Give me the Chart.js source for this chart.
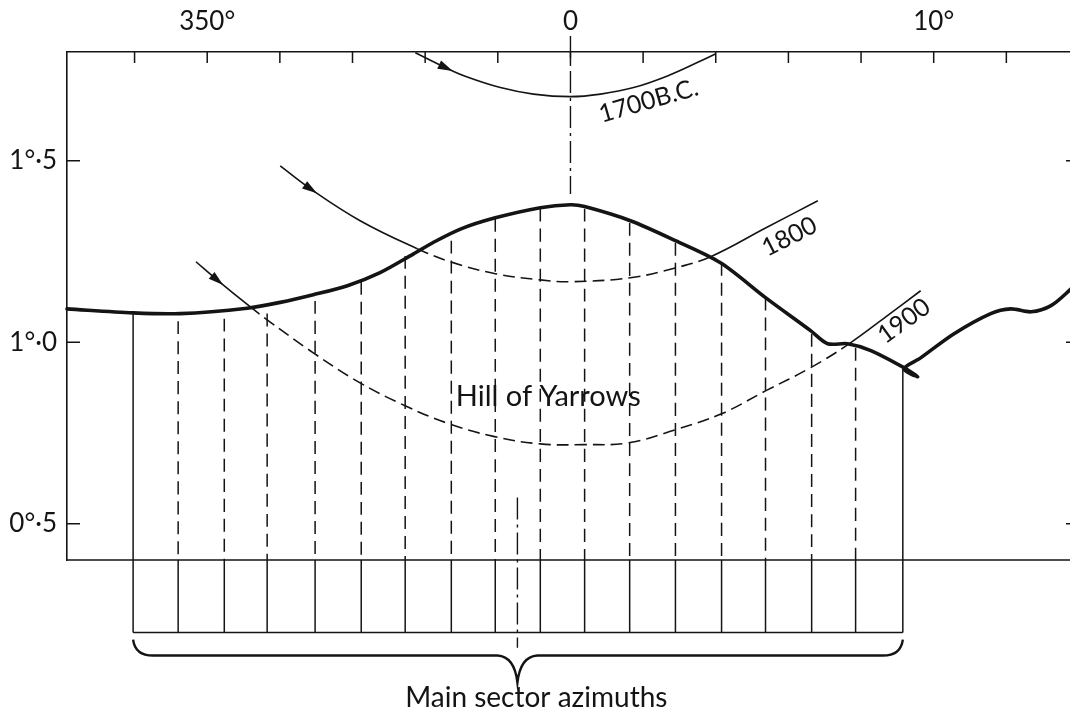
<!DOCTYPE html>
<html>
<head>
<meta charset="utf-8">
<script src="https://cdn.jsdelivr.net/npm/chart.js@4"></script>
<style>
  html, body { margin: 0; padding: 0; background: #fff; overflow: hidden; }
  #wrap { width: 1094px; height: 710px; }
</style>
</head>
<body>
<div id="wrap"><canvas id="horizon" width="1094" height="710"></canvas></div>
<script>
// azimuth in degrees from north (negative = west of 0), altitude in degrees
const skyAz  = [-13.86, -12.04, -10.75, -8.90, -7.99, -7.08, -6.14, -5.24, -4.33, -3.78, -3.03, -2.07, -0.83, 0.0, 0.39, 1.65, 2.89, 4.13, 5.37, 6.61, 7.08, 7.63, 8.27, 9.18, 9.56, 9.18, 9.64, 10.55, 11.57, 12.12, 12.68, 13.23, 13.78, 14.0];
const skyAlt = [1.092, 1.081, 1.079, 1.094, 1.110, 1.131, 1.156, 1.192, 1.243, 1.275, 1.312, 1.343, 1.371, 1.379, 1.374, 1.335, 1.280, 1.219, 1.123, 1.032, 0.996, 0.996, 0.977, 0.930, 0.905, 0.927, 0.957, 1.023, 1.079, 1.092, 1.084, 1.101, 1.147, 1.169];

const bcAz  = [-4.27, -3.44, -2.84, -1.93, -1.02, 0.0, 0.83, 1.74, 2.67, 3.58, 4.0];
const bcAlt = [1.798, 1.757, 1.731, 1.702, 1.684, 1.677, 1.684, 1.702, 1.734, 1.775, 1.795];

const ad1800Az  = [-7.99, -7.16, -5.79, -4.22, -3.31, -2.07, -0.83, 0.0, 1.65, 2.89, 3.86, 5.37, 6.81];
const ad1800Alt = [1.486, 1.423, 1.335, 1.258, 1.222, 1.189, 1.172, 1.167, 1.178, 1.205, 1.236, 1.315, 1.390];

const ad1900Az  = [-10.31, -9.73, -8.82, -8.35, -7.08, -5.84, -4.55, -3.33, -2.09, -0.83, 0.39, 1.60, 2.89, 4.16, 5.37, 6.61, 7.63, 8.68, 9.64];
const ad1900Alt = [1.222, 1.172, 1.098, 1.062, 0.971, 0.891, 0.825, 0.775, 0.740, 0.720, 0.718, 0.723, 0.759, 0.803, 0.866, 0.930, 0.993, 1.070, 1.142];

const sectorAz  = [-12.04, -10.80, -9.53, -8.35, -7.03, -5.76, -4.55, -3.28, -2.07, -0.83, 0.39, 1.63, 2.89, 4.16, 5.37, 6.64, 7.85, 9.15];
const sectorTop = [1.081, 1.058, 1.065, 1.079, 1.114, 1.167, 1.238, 1.280, 1.340, 1.368, 1.368, 1.329, 1.274, 1.219, 1.123, 1.023, 0.985, 0.927];

const xTicks = [-12, -10, -8, -6, -4, -2, 0, 2, 4, 6, 8, 10, 12];
const xLabelAt = [-10, 0, 10];
const xLabels  = ['350°', '0', '10°'];
const yTicks  = [0.5, 1.0, 1.5];
const yLabels = ['0°·5', '1°·0', '1°·5'];

const xMin = -13.86, xMax = 14.0, yMin = 0.4, yMax = 1.8;
const boxBottom = 0.2;     // lower edge of the sector boxes
const centreLine = [1.844, 1.409];
const sectorMid = -1.46;
const sectorMidLine = [0.572, 0.158];

const ink = '#141414';
const FONT = 'Lato, "Open Sans", sans-serif';

// dashed where the path is hidden behind the hill
const dashed1800 = [3, 9];
const dashed1900 = [2, 15];

const notes = [
  { text: '1700B.C.', az: 2.15, alt: 1.665, rot: -16, size: 25 },
  { text: '1800', az: 6.03, alt: 1.291, rot: -27, size: 25 },
  { text: '1900', az: 9.18, alt: 1.059, rot: -36, size: 25 },
  { text: 'Hill of Yarrows', az: -0.61, alt: 0.85, rot: 0, size: 29 },
  { text: 'Main sector azimuths', az: -0.94, alt: 0.02, rot: 0, size: 28 }
];

function pts(az, alt) { return az.map((a, i) => ({ x: a, y: alt[i] })); }

const sectorPts = [];
sectorAz.forEach((a, i) => {
  sectorPts.push({ x: a, y: sectorTop[i] }, { x: a, y: yMin }, { x: a, y: boxBottom }, { x: a, y: null });
});

function dashBetween(range, pattern) {
  return c => (c.p0DataIndex >= range[0] && c.p0DataIndex <= range[1]) ? pattern : undefined;
}

const decor = {
  id: 'decor',
  afterDatasetsDraw(chart) {
    const { ctx, chartArea: a, scales: { x, y } } = chart;
    ctx.save();
    ctx.strokeStyle = ink;
    ctx.fillStyle = ink;
    ctx.lineWidth = 1.5;

    // bottom frame and inward tick marks
    ctx.beginPath();
    ctx.moveTo(a.left, a.bottom); ctx.lineTo(a.right, a.bottom);
    xTicks.forEach(v => {
      const px = x.getPixelForValue(v);
      ctx.moveTo(px, a.top); ctx.lineTo(px, a.top + 11);
    });
    yTicks.forEach(v => {
      const py = y.getPixelForValue(v);
      ctx.moveTo(a.left, py); ctx.lineTo(a.left + 13, py);
      ctx.moveTo(a.right - 13, py); ctx.lineTo(a.right, py);
    });
    ctx.stroke();

    // arrow heads on the sun paths
    chart.data.datasets.forEach((ds, i) => {
      if (ds.arrowAt === undefined) return;
      const pts = chart.getDatasetMeta(i).data;
      const p = pts[ds.arrowAt], p0 = pts[ds.arrowAt - 1], p1 = pts[ds.arrowAt + 1];
      const ang = Math.atan2(p1.y - p0.y, p1.x - p0.x);
      ctx.save();
      ctx.translate(p.x, p.y);
      ctx.rotate(ang);
      ctx.beginPath();
      ctx.moveTo(8, 0); ctx.lineTo(-7, -4.5); ctx.lineTo(-7, 4.5); ctx.closePath();
      ctx.fill();
      ctx.restore();
    });

    // brace under the sector boxes
    const L = x.getPixelForValue(sectorAz[0]);
    const R = x.getPixelForValue(sectorAz[sectorAz.length - 1]);
    const T = x.getPixelForValue(sectorMid);
    const yb = y.getPixelForValue(boxBottom);
    const yh = yb + 23, yt = yb + 50;
    ctx.lineWidth = 2.4;
    ctx.beginPath();
    ctx.moveTo(L, yb + 7);
    ctx.quadraticCurveTo(L + 2, yh, L + 20, yh);
    ctx.lineTo(T - 20, yh);
    ctx.quadraticCurveTo(T - 3, yh + 1, T, yt);
    ctx.quadraticCurveTo(T + 3, yh + 1, T + 20, yh);
    ctx.lineTo(R - 20, yh);
    ctx.quadraticCurveTo(R - 2, yh, R, yb + 7);
    ctx.stroke();

    // text notes
    ctx.textAlign = 'center';
    ctx.textBaseline = 'middle';
    notes.forEach(n => {
      ctx.save();
      ctx.translate(x.getPixelForValue(n.az), y.getPixelForValue(n.alt));
      ctx.rotate(n.rot * Math.PI / 180);
      ctx.font = n.size + 'px ' + FONT;
      ctx.fillText(n.text, 0, 0);
      ctx.restore();
    });
    ctx.restore();
  }
};

new Chart(document.getElementById('horizon'), {
  type: 'line',
  data: {
    datasets: [
      { data: pts(skyAz, skyAlt), borderColor: ink, borderWidth: 3.6, tension: 0.3, borderCapStyle: 'round', borderJoinStyle: 'round' },
      { data: pts(bcAz, bcAlt), borderColor: ink, borderWidth: 1.6, tension: 0.4, arrowAt: 1 },
      { data: pts(ad1800Az, ad1800Alt), borderColor: ink, borderWidth: 1.6, tension: 0.4, arrowAt: 1,
        segment: { borderDash: dashBetween(dashed1800, [12, 6]) } },
      { data: pts(ad1900Az, ad1900Alt), borderColor: ink, borderWidth: 1.6, tension: 0.4, arrowAt: 1,
        segment: { borderDash: dashBetween(dashed1900, [12, 6]) } },
      // small tension keeps Chart.js off its fast path, which merges points sharing one x
      { data: sectorPts, borderColor: ink, borderWidth: 1.5, tension: 0.01, spanGaps: false,
        segment: {
          borderDash: c => {
            const i = c.p0DataIndex, k = Math.floor(i / 4);
            return (i % 4 === 0 && k > 0 && k < sectorAz.length - 1) ? [13, 7] : undefined;
          }
        } },
      { data: [{ x: sectorAz[0], y: boxBottom }, { x: sectorAz[sectorAz.length - 1], y: boxBottom }], borderColor: ink, borderWidth: 1.6 },
      { data: [{ x: 0, y: centreLine[0] }, { x: 0, y: centreLine[1] }], borderColor: ink, borderWidth: 1.4, borderDash: [22, 5, 3, 5] },
      { data: [{ x: sectorMid, y: sectorMidLine[0] }, { x: sectorMid, y: sectorMidLine[1] }], borderColor: ink, borderWidth: 1.4, borderDash: [22, 5, 3, 5] }
    ]
  },
  options: {
    responsive: false,
    animation: false,
    events: [],
    layout: { padding: { bottom: 150, right: 0 } },
    datasets: {
      line: { pointRadius: 0, fill: false, clip: false, borderDash: [] }
    },
    plugins: { colors: { enabled: false }, legend: { display: false }, tooltip: { enabled: false } },
    scales: {
      x: {
        type: 'linear', position: 'top', min: xMin, max: xMax,
        afterFit: s => { s.height = 52; },
        grid: { drawOnChartArea: false, drawTicks: false },
        border: { color: ink, width: 1.6 },
        ticks: {
          stepSize: 2, includeBounds: false, autoSkip: false, maxRotation: 0,
          padding: 15, color: ink, font: { family: FONT, size: 26 },
          callback: v => { const k = xLabelAt.indexOf(v); return k < 0 ? '' : xLabels[k]; }
        }
      },
      y: {
        min: yMin, max: yMax,
        afterFit: s => { s.width = 67; },
        grid: { drawOnChartArea: false, drawTicks: false },
        border: { color: ink, width: 1.6 },
        ticks: {
          stepSize: 0.5, includeBounds: false, padding: 10, color: ink,
          font: { family: FONT, size: 26 },
          callback: v => { const k = yTicks.findIndex(t => Math.abs(t - v) < 1e-6); return k < 0 ? '' : yLabels[k]; }
        }
      }
    }
  },
  plugins: [decor]
});
</script>
</body>
</html>
